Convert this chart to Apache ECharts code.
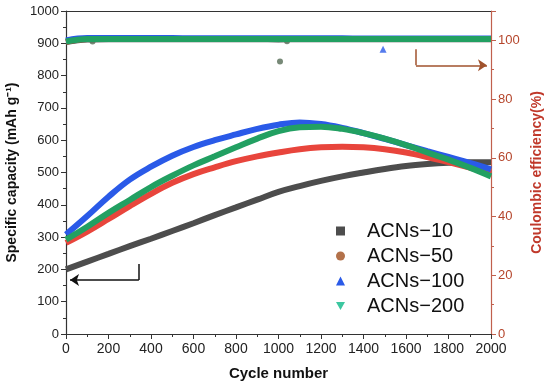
<!DOCTYPE html>
<html><head><meta charset="utf-8">
<script src="https://cdn.jsdelivr.net/npm/echarts@6/dist/echarts.min.js"></script>
<style>html,body{margin:0;padding:0;background:#fff}#c{width:550px;height:391px}</style>
</head><body><div id="c"></div>
<script>
const cycles = [0,100,200,300,400,500,600,700,800,900,1000,1100,1200,1300,1400,1500,1600,1700,1800,1900,2000];
const cap10  = [200,224,248,272,295,319,343,368,392,416,440,458,474,488,500,511,520,526,530,532,532];
const cap50  = [282,317,356,396,434,468,495,516,535,550,562,572,578,580,578,572,562,548,532,515,498];
const cap100 = [308,365,425,478,518,552,579,600,618,635,648,655,650,638,622,604,585,566,548,530,510];
const cap200 = [292,332,375,415,455,490,522,550,578,605,628,640,642,635,622,605,585,562,540,515,488];
const ce10   = [99.4,100.3,100.4,100.4,100.4,100.4,100.4,100.4,100.4,100.4,100.3,100.4,100.4,100.4,100.4,100.4,100.4,100.4,100.4,100.4,100.4];
const ce50   = [99.5,100.5,100.5,100.5,100.5,100.5,100.5,100.5,100.5,100.5,100.5,100.5,100.5,100.5,100.5,100.5,100.5,100.5,100.5,100.5,100.5];
const ce100  = [100.0,100.8,100.8,100.8,100.8,100.8,100.7,100.7,100.7,100.7,100.7,100.7,100.7,100.7,100.6,100.6,100.6,100.6,100.6,100.6,100.6];
const ce200  = [99.6,100.5,100.5,100.5,100.5,100.5,100.5,100.5,100.5,100.5,100.5,100.5,100.5,100.5,100.5,100.5,100.5,100.5,100.5,100.5,100.5];
const ceOut10 = [[125,99.6],[1007,92.8],[1040,99.7]];
const ceOut100 = [[1492,97.0]];
const names = ['ACNs\u221210','ACNs\u221250','ACNs\u2212100','ACNs\u2212200'];

const zip = (a) => cycles.map((c,i)=>[c,a[i]]);
const lineCol = ['#4d4d4d','#e8453c','#2a5ae8','#22a062'];
const markCol = ['#4d4d4d','#b3714a','#2a5ae8','#3cc7a0'];
const caps = [cap10,cap50,cap100,cap200];
const ces = [ce10,ce50,ce100,ce200];

const series = [];
for (let i=0;i<4;i++){
  series.push({name:names[i],type:'line',smooth:0.4,showSymbol:false,yAxisIndex:0,
    data:zip(caps[i]),lineStyle:{width:6,color:lineCol[i]},itemStyle:{color:markCol[i]},z:2+i});
}
for (let i=0;i<4;i++){
  series.push({name:names[i]+'ce',type:'line',smooth:0.4,showSymbol:false,yAxisIndex:1,
    data:zip(ces[i]),lineStyle:{width:6,color:lineCol[i]},z:2+i});
}
series.push({type:'scatter',yAxisIndex:1,data:ceOut10,symbol:'circle',symbolSize:6,itemStyle:{color:'#556b55'}});
series.push({type:'scatter',yAxisIndex:1,data:ceOut100,symbol:'triangle',symbolSize:7,itemStyle:{color:'#2a5ae8'}});
// arrows
series.push({type:'line',yAxisIndex:0,data:[],markLine:{silent:true,animation:false,symbol:['none','arrow'],symbolSize:9,
  lineStyle:{color:'#111',width:1.5,type:'solid'},label:{show:false},
  data:[[{coord:[343,217]},{coord:[343,167],symbol:'none'}],
        [{coord:[343,167]},{coord:[19,167]}]]}});
series.push({type:'line',yAxisIndex:1,data:[],markLine:{silent:true,animation:false,symbol:['none','arrow'],symbolSize:9,
  lineStyle:{color:'#a0522d',width:1.5,type:'solid'},label:{show:false},
  data:[[{coord:[1647,97]},{coord:[1647,91.5],symbol:'none'}],
        [{coord:[1647,91.5]},{coord:[1981,91.5]}]]}});

const chart = echarts.init(document.getElementById('c'));
chart.setOption({
  animation:false,
  textStyle:{fontFamily:'Liberation Sans, Arial, sans-serif'},
  grid:{left:66,right:59,top:11,bottom:57,containLabel:false,outerBoundsMode:'none'},
  legend:{orient:'vertical',left:331,top:216,itemWidth:9,itemHeight:9,itemGap:5,
    textStyle:{fontSize:20,color:'#111',padding:[0,0,0,17],fontFamily:'Liberation Sans, Arial, sans-serif'},
    data:[{name:names[0],icon:'rect',itemStyle:{color:markCol[0]}},
          {name:names[1],icon:'circle',itemStyle:{color:markCol[1]}},
          {name:names[2],icon:'triangle',itemStyle:{color:markCol[2]}},
          {name:names[3],icon:'path://M0,0 L10,0 L5,9 Z',itemStyle:{color:markCol[3]}}]},
  xAxis:[{type:'value',min:0,max:2000,interval:200,name:'Cycle number',nameLocation:'middle',nameGap:32,
    nameTextStyle:{fontSize:15,fontWeight:'bold',color:'#111'},
    axisLine:{onZero:false,lineStyle:{color:'#333',width:1.2}},axisTick:{length:5,lineStyle:{color:'#333'}},
    minorTick:{show:true,splitNumber:2,length:3,lineStyle:{color:'#333'}},
    axisLabel:{fontSize:14,color:'#222',margin:8,formatter:v=>String(v)},splitLine:{show:false}},
    {type:'value',min:0,max:2000,position:'top',axisLine:{show:true,onZero:false,lineStyle:{color:'#333',width:1.2}},
    axisTick:{show:false},axisLabel:{show:false},splitLine:{show:false}}],
  yAxis:[{type:'value',min:0,max:1000,interval:100,name:'Specific capacity (mAh g\u207B\u00B9)',nameLocation:'middle',nameGap:37,
    nameTextStyle:{fontSize:14,fontWeight:'bold',color:'#111'},
    axisLine:{show:true,onZero:false,lineStyle:{color:'#333',width:1.2}},axisTick:{show:true,length:5,lineStyle:{color:'#333'}},
    minorTick:{show:true,splitNumber:2,length:3,lineStyle:{color:'#333'}},
    axisLabel:{fontSize:13,color:'#222',margin:7,formatter:v=>String(v)},splitLine:{show:false}},
    {type:'value',min:0,max:110,interval:20,position:'right',name:'Coulombic efficiency(%)',nameLocation:'middle',nameGap:32,
    nameRotate:90,
    nameTextStyle:{fontSize:14,fontWeight:'bold',color:'#c0392b'},
    axisLine:{show:true,onZero:false,lineStyle:{color:'#c0604d',width:1.2}},axisTick:{show:true,length:5,lineStyle:{color:'#c0604d'}},
    minorTick:{show:true,splitNumber:2,length:3,lineStyle:{color:'#c0604d'}},
    axisLabel:{fontSize:13,color:'#b5452b',margin:7,showMaxLabel:false,formatter:v=>String(v)},splitLine:{show:false}}],
  series:series
});
</script></body></html>
